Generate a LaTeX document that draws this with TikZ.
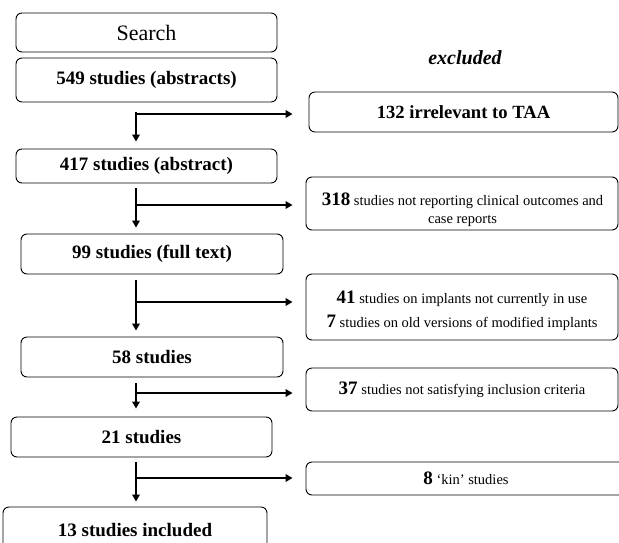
\documentclass[tikz,border=0pt]{standalone}
\usepackage{fontspec}
\setmainfont{Liberation Serif}
\usetikzlibrary{arrows.meta}
\tikzset{
  box/.style={draw, line width=0.9pt, rounded corners=6pt, inner sep=0pt, align=center},
  lbox/.style={box, font=\fontsize{19}{22}\selectfont\bfseries},
  rbox/.style={box, minimum width=312pt, font=\fontsize{14.5}{19}\selectfont},
  rtxt/.style={inner sep=0pt, align=center, font=\fontsize{14.5}{19}\selectfont},
  arr/.style={line width=2pt, -{Triangle[length=7pt,width=7.5pt]}},
}
\newcommand{\bnum}[1]{{\fontsize{19}{19}\selectfont\bfseries #1}}
\begin{document}
\begin{tikzpicture}[x=1pt,y=-1pt]
\clip (0,0) rectangle (619,542);
\fill[white] (0,0) rectangle (619,542);
% left column
\node[box, minimum width=261pt, minimum height=39pt, font=\fontsize{22}{26}\selectfont] (search) at (146.5,32.5) {Search};
\node[lbox, minimum width=261pt, minimum height=44pt] (b549) at (146.5,80) {549 studies (abstracts)};
\node[lbox, minimum width=261pt, minimum height=34pt] (b417) at (146.5,166) {417 studies (abstract)};
\node[lbox, minimum width=262pt, minimum height=40pt] (b99) at (152,254) {99 studies (full text)};
\node[lbox, minimum width=262pt, minimum height=40pt] (b58) at (152,357) {58 studies};
\node[lbox, minimum width=261pt, minimum height=40pt] (b21) at (141.5,437) {21 studies};
\node[lbox, minimum width=264pt, minimum height=46pt] (b13) at (135,530) {13 studies included};
% excluded column
\node[font=\fontsize{20}{24}\selectfont\bfseries\itshape] (excl) at (465,58) {excluded};
\node[rbox, minimum width=309pt, minimum height=40pt, font=\fontsize{18.6}{22}\selectfont\bfseries] (e132) at (463.5,112) {132 irrelevant to TAA};
\node[rbox, minimum height=53pt] (e318) at (462,203.5) {};
\node[rtxt] (e318t) at (462.5,210) {\bnum{318} studies not reporting clinical outcomes and\\[-1pt] case reports};
\node[rbox, minimum height=66pt] (e41) at (462,307) {};
\node[rtxt] (e41t) at (462,310.5) {\bnum{41} studies on implants not currently in use\\[5pt]\bnum{7} studies on old versions of modified implants};
\node[rbox, minimum height=43pt] (e37) at (462,389.5) {\bnum{37} studies not satisfying inclusion criteria};
\node[rbox, minimum width=320pt, minimum height=33pt] (e8) at (466,478.5) {\bnum{8} `kin' studies};
% junction coordinates
\coordinate (col) at (136,0);
\coordinate (j1) at (136,114);
\coordinate (j2) at (136,205);
\coordinate (j3) at (136,302);
\coordinate (j4) at (136,393);
\coordinate (j5) at (136,478);
% vertical arrows
\draw[arr, shorten <=10pt, shorten >=7pt] (b549.south -| col) -- (b417.north -| col);
\draw[arr, shorten <=5pt, shorten >=6pt] (b417.south -| col) -- (b99.north -| col);
\draw[arr, shorten <=6pt, shorten >=6pt] (b99.south -| col) -- (b58.north -| col);
\draw[arr, shorten <=6pt, shorten >=8pt] (b58.south -| col) -- (b21.north -| col);
\draw[arr, shorten <=5pt, shorten >=5pt] (b21.south -| col) -- (b13.north -| col);
% horizontal arrows
\draw[arr, shorten <=-1pt, shorten >=16pt] (j1) -- (e132.west |- j1);
\draw[arr, shorten <=-1pt, shorten >=13pt] (j2) -- (e318.west |- j2);
\draw[arr, shorten <=-1pt, shorten >=13pt] (j3) -- (e41.west |- j3);
\draw[arr, shorten <=-1pt, shorten >=13pt] (j4) -- (e37.west |- j4);
\draw[arr, shorten <=-1pt, shorten >=13pt] (j5) -- (e8.west |- j5);
\end{tikzpicture}
\end{document}
